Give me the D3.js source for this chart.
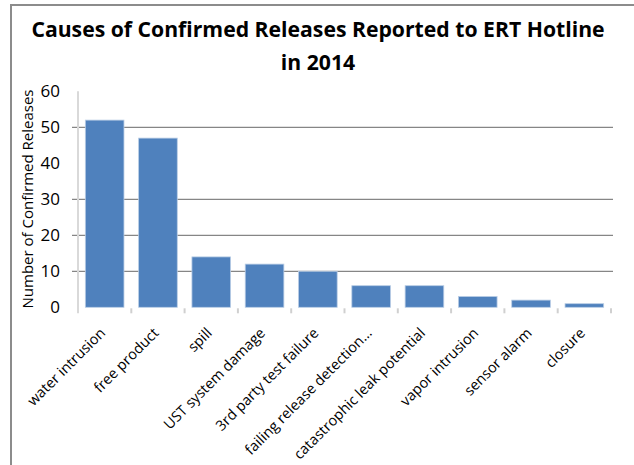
<!DOCTYPE html>
<html>
<head>
<meta charset="utf-8">
<script src="https://cdn.jsdelivr.net/npm/d3@7"></script>
<style>
  html, body { margin: 0; padding: 0; background: #fff; }
  svg { display: block; font-family: "Open Sans", sans-serif; }
</style>
</head>
<body>
<div id="chart"></div>
<script>
// chart data
var categories = ["water intrusion", "free product", "spill", "UST system damage",
    "3rd party test failure", "failing release detection\u2026", "catastrophic leak potential",
    "vapor intrusion", "sensor alarm", "closure"];
var releases = [52, 47, 14, 12, 10, 6, 6, 3, 2, 1];
var yTicks = [0, 10, 20, 30, 40, 50, 60];
var gridValues = [10, 20, 30, 50];
var titleLines = ["Causes of Confirmed Releases Reported to ERT Hotline", "in 2014"];
var yTitle = "Number of Confirmed Releases";

var width = 634, height = 465;
var plot = { left: 78, right: 611, top: 91.3, bottom: 307.3 };

var svg = d3.select("#chart")
    .append("svg")
    .attr("width", width)
    .attr("height", height);

// outer frame (runs off the right and bottom edges)
svg.append("path")
    .attr("d", "M11," + height + "V5H" + width)
    .attr("fill", "none")
    .attr("stroke", "#8c8c8c")
    .attr("stroke-width", 2);

// title
svg.selectAll(".title")
    .data(titleLines)
    .enter().append("text")
    .attr("class", "title")
    .attr("x", 318)
    .attr("y", function (d, i) { return 37 + i * 33; })
    .attr("text-anchor", "middle")
    .attr("font-weight", "bold")
    .attr("font-size", 21.2)
    .attr("fill", "#000")
    .text(function (d) { return d; });

var x = d3.scaleBand()
    .domain(categories)
    .range([plot.left, plot.right])
    .paddingInner(0.275)
    .paddingOuter(0.1375);

var y = d3.scaleLinear()
    .domain([0, 60])
    .range([plot.bottom, plot.top]);

// gridlines + small left ticks
svg.append("g")
    .selectAll("line")
    .data(gridValues)
    .enter().append("line")
    .attr("x1", plot.left - 6)
    .attr("x2", plot.right + 2)
    .attr("y1", function (d) { return y(d); })
    .attr("y2", function (d) { return y(d); })
    .attr("stroke", "#868686")
    .attr("stroke-width", 1.3);

// y tick labels
svg.append("g")
    .selectAll("text")
    .data(yTicks)
    .enter().append("text")
    .attr("x", 60)
    .attr("y", function (d) { return y(d); })
    .attr("dy", "0.36em")
    .attr("text-anchor", "end")
    .attr("font-size", 17)
    .attr("fill", "#000")
    .text(function (d) { return d; });

// y axis title
svg.append("text")
    .attr("transform", "translate(33," + 199 + ") rotate(-90)")
    .attr("text-anchor", "middle")
    .attr("font-size", 15)
    .attr("fill", "#000")
    .text(yTitle);

// bars
svg.append("g")
    .selectAll("rect")
    .data(releases)
    .enter().append("rect")
    .attr("x", function (d, i) { return x(categories[i]); })
    .attr("y", function (d) { return y(d); })
    .attr("width", x.bandwidth())
    .attr("height", function (d) { return y(0) - y(d); })
    .attr("fill", "#4f81bd")
    .attr("stroke", "#b9cde5")
    .attr("stroke-width", 0.8);

// y axis line
svg.append("line")
    .attr("x1", plot.left).attr("x2", plot.left)
    .attr("y1", plot.top).attr("y2", plot.bottom + 6)
    .attr("stroke", "#d9d9d9")
    .attr("stroke-width", 2);

// x category boundary ticks
svg.append("g")
    .selectAll("line")
    .data(categories)
    .enter().append("line")
    .attr("x1", function (d) { return x(d) - x.step() * x.paddingOuter() + x.step(); })
    .attr("x2", function (d) { return x(d) - x.step() * x.paddingOuter() + x.step(); })
    .attr("y1", plot.bottom + 1)
    .attr("y2", plot.bottom + 6)
    .attr("stroke", "#d0d0d0")
    .attr("stroke-width", 2);

// x labels, rotated
svg.append("g")
    .selectAll("text")
    .data(categories)
    .enter().append("text")
    .attr("transform", function (d) {
        return "translate(" + (x(d) + x.bandwidth() / 2 - 2) + "," + (plot.bottom + 23) + ") rotate(-45)";
    })
    .attr("text-anchor", "end")
    .attr("dy", "0.35em")
    .attr("font-size", 14.5)
    .attr("fill", "#000")
    .text(function (d) { return d; });
</script>
</body>
</html>
